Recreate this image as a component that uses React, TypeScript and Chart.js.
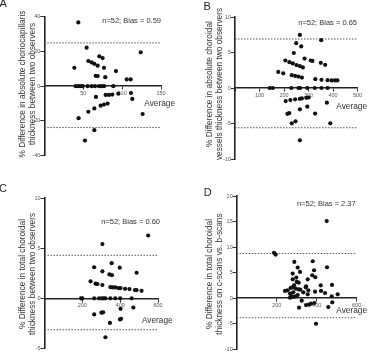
import React, { useEffect, useRef } from 'react';
import { Chart, registerables } from 'chart.js';
Chart.register(...registerables);

// ---------- Panel A: choriocapillaris ----------
const aAverage = [43.7, 54.4, 124, 70.7, 75, 56.6, 60.9, 64.3, 68.6, 38.6, 76.7, 92.1, 66, 68.6, 78.4, 105.9, 111,
  40.3, 43.7, 46.7, 49.3, 55.7, 60.9, 65.1, 70.3, 73.7, 76.7, 88.7,
  78.9, 83.2, 87.4, 95.1, 111.4, 66.4, 113.1, 72.4, 76.7, 81.4, 64.3, 56.6, 126.4, 44.1, 64.3, 52.3];
const aDiff = [36.7, 22.2, 19.5, 17.2, 16.2, 14.5, 13.7, 12.9, 11.8, 10.6, 10.6, 8.7, 6.0, 5.8, 5.2, 3.9, 3.9,
  0, 0, 0, 0, 0, 0, 0, 0, 0, 0, 0,
  -5.0, -5.0, -4.8, -4.3, -3.9, -6.2, -7.3, -11.2, -10.6, -10.0, -12.8, -14.7, -16.0, -18.4, -25.3, -31.3];
const aLimits = [24.9, -23.8];

// ---------- Panel B: choroidal vessels ----------
const bAverage = [264.8, 352, 249.7, 270.3, 240, 284, 309, 316, 205.5, 222, 235.9, 251, 264.8, 277, 350, 368,
  176.6, 197, 231.7, 245.5, 259.3, 273, 328, 353, 378, 394.5, 408, 418,
  142, 154.5, 230, 259, 266, 295, 325.5, 353, 378,
  207, 226, 245.5, 264.8, 273, 291, 300.7, 375, 295, 221, 214, 327, 264.8, 247, 231.7, 389, 264.8];
const bDiff = [7.47, 6.73, 6.31, 5.85, 4.93, 4.15, 3.87, 3.82, 3.87, 3.64, 3.46, 3.23, 3.09, 2.9, 3.55, 3.27,
  2.26, 2.07, 1.8, 1.7, 1.61, 1.47, 1.24, 1.15, 1.1, 1.06, 1.06, 1.06,
  0, 0, 0, 0, 0, 0, 0, 0, 0,
  -1.84, -1.7, -1.6, -1.52, -1.47, -1.38, -1.34, -2.07, -2.63, -3.55, -3.64, -3.6, -3.0, -4.7, -4.98, -4.98, -7.37];
const bLimits = [6.9, -5.6];

// ---------- Panel C: total choroidal, observers ----------
const cAverage = [548, 306, 262.6, 306, 355, 398, 487, 343, 356.5, 243.5, 269.6, 280, 306, 348, 360, 374, 391, 402, 426, 449, 478, 487, 513,
  193, 200, 262.6, 288.7, 304, 313, 322, 348, 374, 400, 461,
  402, 469.6, 262.6, 301, 310, 399, 405, 346, 322];
const cDiff = [6.26, 5.41, 3.1, 2.69, 3.5, 3.06, 2.55, 2.38, 2.31, 1.7, 1.46, 1.43, 1.33, 1.12, 1.09, 1.09, 1.02, 1.02, 0.95, 0.92, 0.82, 0.82, 0.75,
  0, 0, 0, 0, 0, 0, 0, 0, 0, 0, 0,
  -1.05, -0.92, -1.6, -1.43, -1.39, -2.1, -2.04, -2.45, -3.88];
const cLimits = [4.29, -3.13];

// ---------- Panel D: c-scans vs b-scans ----------
const dAverage = [450, 186.7, 195, 288, 380, 305, 451.7, 386.7, 316.7, 378, 280, 393, 298, 280, 355, 300, 310, 287, 280, 347, 345, 420, 476.7,
  270, 295, 308, 255, 241.7, 318, 358, 391.7, 421.7, 333, 283, 441.7, 266.7, 355, 305, 505, 475, 275, 283, 295, 266.7,
  325, 388, 346.7, 361.7, 371.7, 458, 478, 311.7, 396.7];
const dDiff = [15.08, 8.85, 8.52, 7.08, 7.21, 5.97, 6.03, 5.44, 5.11, 4.46, 4.79, 4.07, 4.0, 3.67, 3.67, 3.15, 3.0, 2.49, 2.1, 2.3, 2.1, 2.49, 2.56,
  1.97, 1.84, 1.7, 1.5, 1.38, 1.64, 1.5, 1.25, 1.38, 1.11, 1.11, 0.98, 0.85, 0.72, 0.59, 0.72, 0.33, 0.33, 0.2, 0.33, 0.07,
  -0.52, -0.98, -1.38, -1.31, -1.11, -1.77, -0.85, -1.9, -5.05];
const dLimits = [8.72, -3.87];

const FONT = '"Liberation Sans", Arial, Helvetica, sans-serif';

type Panel = {
  letter: string; letterX: number; letterY: number;
  title: string[]; titleY: number;
  stat: string; statY: number; statDx: number;
  avgDx: number; avgDy: number;
  xMax: number; xStep: number; yMin: number; yMax: number; yStep: number;
  avg: number[]; diff: number[]; limits: number[];
  area: { L: number; R: number; T: number; B: number };
};

const panels: Panel[] = [
  { letter: 'A', letterX: -0.5, letterY: 7, title: ['% Difference in absolute choriocapillaris', 'thickness between two observers'], titleY: 84,
    stat: 'n=52; Bias = 0.59', statY: 37.5, statDx: 0, avgDx: 14, avgDy: 17.3,
    xMax: 150, xStep: 50, yMin: -40, yMax: 40, yStep: 20, avg: aAverage, diff: aDiff, limits: aLimits,
    area: { L: 44.3, R: 161, T: 16.7, B: 155.7 } },
  { letter: 'B', letterX: 16.5, letterY: 10, title: ['% Difference in absolute choroidal', 'vessels thickness between two observers'], titleY: 84,
    stat: 'n=52; Bias = 0.65', statY: 9.2, statDx: -0.5, avgDx: 9.5, avgDy: 18.4,
    xMax: 500, xStep: 100, yMin: -10, yMax: 10, yStep: 5, avg: bAverage, diff: bDiff, limits: bLimits,
    area: { L: 48, R: 170.5, T: 17, B: 159 } },
  { letter: 'C', letterX: -1, letterY: 14.5, title: ['% Difference in total choroidal', 'thickness between two observers'], titleY: 97,
    stat: 'n=52; Bias = 0.60', statY: 7.6, statDx: 2, avgDx: 14.7, avgDy: 22,
    xMax: 600, xStep: 200, yMin: -5, yMax: 10, yStep: 5, avg: cAverage, diff: cDiff, limits: cLimits,
    area: { L: 44.5, R: 158, T: 21, B: 171.5 } },
  { letter: 'D', letterX: 16.7, letterY: 18.5, title: ['% Difference in total choroidal', 'thickness on c-scans vs. b-scans'], titleY: 97,
    stat: 'n=52; Bias = 2.37', statY: 18.4, statDx: -1, avgDx: 10.3, avgDy: 12.6,
    xMax: 600, xStep: 200, yMin: -10, yMax: 20, yStep: 5, avg: dAverage, diff: dDiff, limits: dLimits,
    area: { L: 49.7, R: 169.7, T: 19, B: 172 } },
];

const W = 187;
const H = 177;

const textPlugin = {
  id: 'panelText',
  afterDraw(chart: any, _args: any, opts: any) {
    const p: Panel = opts.panel;
    if (!p) return;
    const ctx = chart.ctx;
    const area = chart.chartArea;
    const ys = chart.scales.y;
    ctx.save();
    ctx.fillStyle = '#222';
    ctx.font = `11px ${FONT}`;
    ctx.textAlign = 'left';
    ctx.textBaseline = 'alphabetic';
    ctx.fillText(p.letter, p.letterX, p.letterY);

    ctx.font = `8.3px ${FONT}`;
    ctx.fillStyle = '#333';
    ctx.save();
    ctx.translate(23, p.titleY);
    ctx.rotate(-Math.PI / 2);
    ctx.textAlign = 'center';
    ctx.textBaseline = 'middle';
    p.title.forEach((line, i) => ctx.fillText(line, 0, i * 10));
    ctx.restore();

    ctx.font = `7.5px ${FONT}`;
    ctx.textAlign = 'right';
    ctx.textBaseline = 'middle';
    ctx.fillText(p.stat, area.right + p.statDx, ys.getPixelForValue(p.statY));

    ctx.font = `8.3px ${FONT}`;
    ctx.fillText('Average', area.right + p.avgDx, ys.getPixelForValue(0) + p.avgDy);
    ctx.restore();
  },
};

function PanelChart({ p }: { p: Panel }) {
  const ref = useRef<HTMLCanvasElement>(null);
  useEffect(() => {
    if (!ref.current) return;
    const points = p.avg.map((x, i) => ({ x, y: p.diff[i] }));
    const limitSets = p.limits.map((v) => ({
      type: 'line' as const,
      data: [{ x: 0, y: v }, { x: p.xMax, y: v }],
      borderColor: '#555',
      borderWidth: 1,
      borderDash: [1.5, 1.5],
      pointRadius: 0,
      showLine: true,
      order: 2,
    }));
    const chart = new Chart(ref.current, {
      type: 'scatter',
      data: {
        datasets: [
          ...limitSets,
          {
            data: points,
            backgroundColor: '#111',
            borderColor: '#111',
            pointRadius: 2.1,
            pointBorderWidth: 0,
            order: 1,
          } as any,
        ],
      },
      options: {
        responsive: false,
        animation: false,
        events: [],
        layout: { padding: { left: 0, top: p.area.T, right: W - p.area.R, bottom: H - p.area.B } },
        plugins: {
          legend: { display: false },
          tooltip: { enabled: false },
          title: { display: false },
          panelText: { panel: p },
        } as any,
        scales: {
          x: {
            type: 'linear',
            position: { y: 0 } as any,
            min: 0,
            max: p.xMax,
            grid: { display: true, drawOnChartArea: false, drawTicks: true, tickLength: 3, color: '#333', lineWidth: 1 },
            border: { display: true, color: '#222', width: 1.6 },
            ticks: {
              stepSize: p.xStep,
              padding: 1,
              color: '#555',
              font: { size: 5.5, family: FONT },
              maxRotation: 0,
              callback: (v: any) => (v === 0 ? '' : String(v)),
            },
          },
          y: {
            type: 'linear',
            position: 'left',
            min: p.yMin,
            max: p.yMax,
            grid: { display: true, drawOnChartArea: false, drawTicks: true, tickLength: 4, color: '#333', lineWidth: 1 },
            border: { display: true, color: '#222', width: 1.6 },
            ticks: {
              stepSize: p.yStep,
              padding: 0,
              color: '#555',
              font: { size: 5.5, family: FONT },
            },
            afterFit: (scale: any) => {
              scale.width = p.area.L;
            },
          },
        },
      },
      plugins: [textPlugin],
    });
    return () => chart.destroy();
  }, [p]);
  return <canvas ref={ref} width={W} height={H} style={{ display: 'block', width: W, height: H }} />;
}

export default function App() {
  return (
    <div
      style={{
        position: 'fixed',
        left: 0,
        top: 0,
        width: 2 * W,
        height: 2 * H,
        background: '#fff',
        display: 'grid',
        gridTemplateColumns: `${W}px ${W}px`,
        gridTemplateRows: `${H}px ${H}px`,
      }}
    >
      {panels.map((p) => (
        <PanelChart key={p.letter} p={p} />
      ))}
    </div>
  );
}
